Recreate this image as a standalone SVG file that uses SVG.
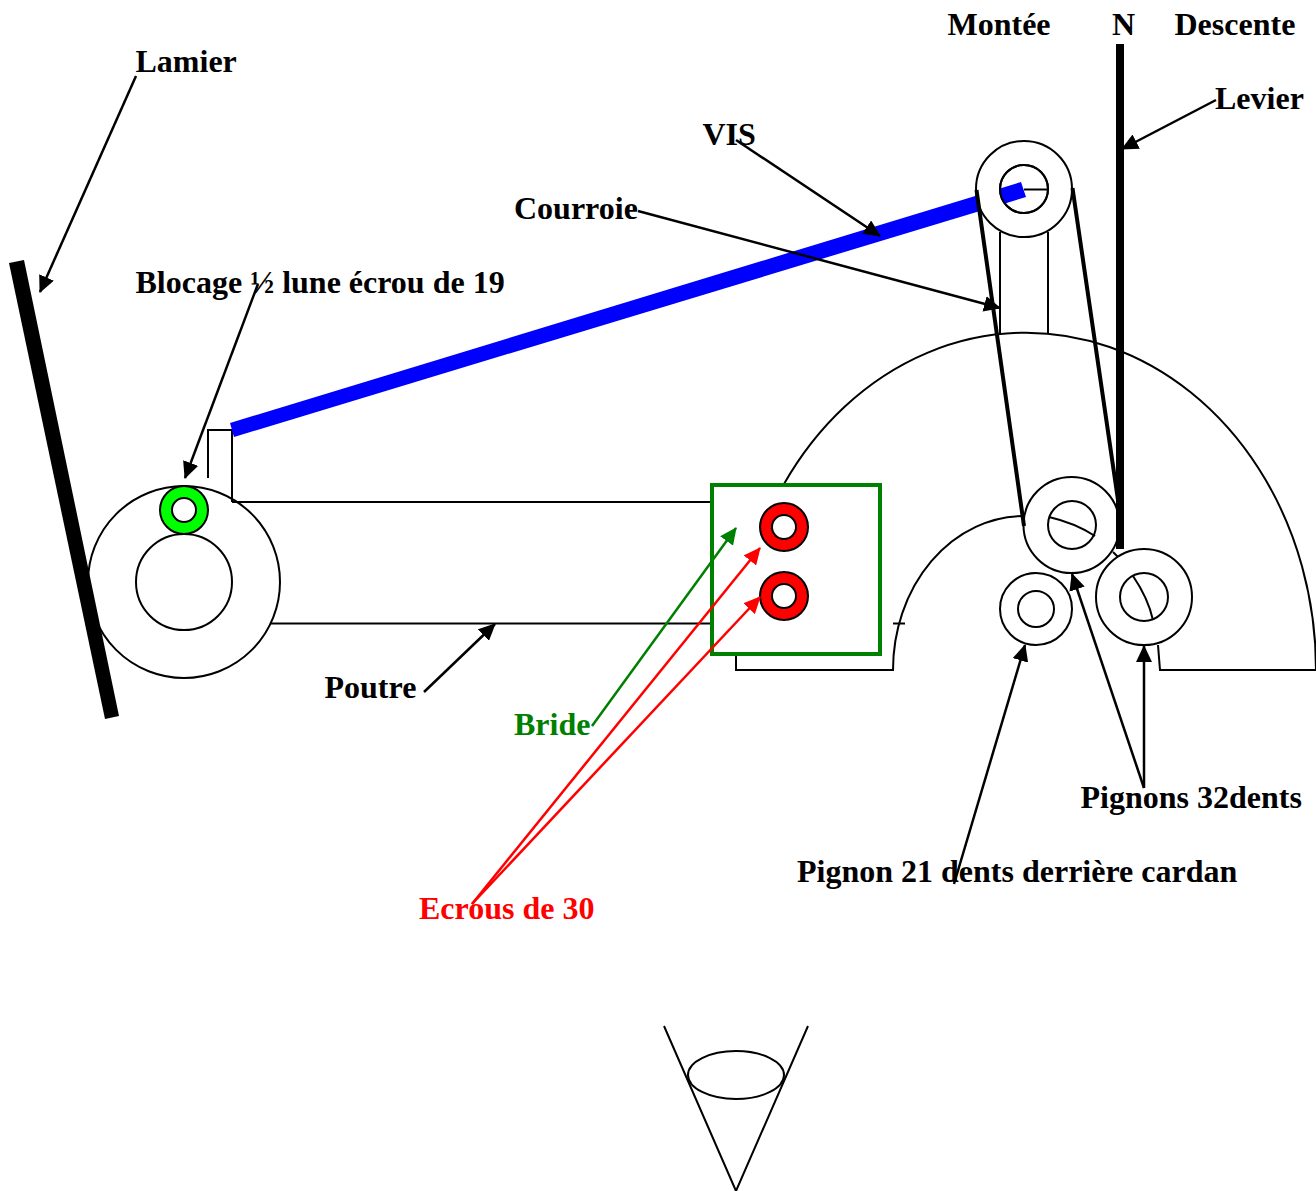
<svg xmlns="http://www.w3.org/2000/svg" width="1316" height="1191" viewBox="0 0 1316 1191">
<style>
.s{fill:none;stroke:#000;stroke-width:2}
.w{fill:#fff;stroke:#000;stroke-width:2}
.b{fill:none;stroke:#000;stroke-width:4}
.a{fill:none;stroke:#000;stroke-width:2.5;marker-end:url(#ak)}
.ar{fill:none;stroke:#f00;stroke-width:2.5;marker-end:url(#ar)}
.ag{fill:none;stroke:#008000;stroke-width:2.5;marker-end:url(#ag)}
text{font-family:"Liberation Serif","Times New Roman",serif;font-weight:bold;font-size:32px;fill:#000}
</style>
<defs>
<marker id="ak" markerUnits="userSpaceOnUse" markerWidth="18" markerHeight="16" refX="16" refY="8" orient="auto"><path d="M0 0L17 8L0 16z" fill="#000"/></marker>
<marker id="ar" markerUnits="userSpaceOnUse" markerWidth="18" markerHeight="16" refX="16" refY="8" orient="auto"><path d="M0 0L17 8L0 16z" fill="#f00"/></marker>
<marker id="ag" markerUnits="userSpaceOnUse" markerWidth="18" markerHeight="16" refX="16" refY="8" orient="auto"><path d="M0 0L17 8L0 16z" fill="#008000"/></marker>
<clipPath id="inner"><circle cx="1024" cy="189" r="24"/></clipPath>
</defs>
<g id="secteur">
<path class="s" d="M784 484A290 337 0 0 1 1316 670H1160L1158 645"/>
<path class="s" d="M736 655V670H893A131 154 0 0 1 1024 516"/>
<path class="s" d="M893 623.5H905"/>
</g>
<g id="poutre">
<path class="s" d="M232 502H712M270 623.5H712"/>
<path class="s" d="M208 478V430H232V502"/>
<circle class="s" cx="184" cy="582" r="96"/>
<circle class="s" cx="184" cy="582" r="48"/>
</g>
<g id="lamier"><path d="M9 263L24 260L119 716L105 719z" fill="#000"/></g>
<g id="bloc"><circle cx="184" cy="510" r="24" fill="#0f0" stroke="#000" stroke-width="2"/><circle cx="184" cy="510" r="12" fill="#fff" stroke="#000" stroke-width="2"/></g>
<g id="bride"><rect x="712" y="485" width="168" height="169" fill="#fff" stroke="#008000" stroke-width="4"/></g>
<g id="ecrou1"><circle cx="784" cy="527" r="24" fill="#f00" stroke="#000" stroke-width="2"/><circle cx="784" cy="527" r="12" fill="#fff" stroke="#000" stroke-width="2"/></g>
<g id="ecrou2"><circle cx="784" cy="596" r="24" fill="#f00" stroke="#000" stroke-width="2"/><circle cx="784" cy="596" r="12" fill="#fff" stroke="#000" stroke-width="2"/></g>
<g id="bras"><path class="s" d="M1000 232V334M1048 232V334"/></g>
<g id="vis"><path d="M234 437L230 423L1021 182L1026 197z" fill="#00f"/></g>
<g id="poulie-haut">
<circle class="w" cx="1024" cy="189" r="48"/>
<circle class="w" cx="1024" cy="189" r="24"/>
<path d="M990 191.500L1021 182L1026 197L990 208z" fill="#00f" clip-path="url(#inner)"/>
<circle class="s" cx="1024" cy="189" r="24"/>
<path class="s" d="M1024 189.500H1048"/>
</g>
<g id="pignon1">
<circle class="w" cx="1071.500" cy="525" r="48"/>
<circle class="s" cx="1072" cy="525" r="24"/>
<path class="s" d="M1049 517Q1075 523 1095 536"/>
</g>
<g id="courroie"><path class="b" d="M976.500 190L1024 526M1072.500 188L1118 500"/></g>
<g id="levier"><rect x="1116" y="44" width="8" height="505" fill="#000"/></g>
<path class="s" d="M1113 552L1118 557"/>
<g id="pignon2">
<circle class="w" cx="1144" cy="597" r="48"/>
<circle class="s" cx="1144" cy="597" r="24"/>
<path class="s" d="M1133 576Q1148 598 1153 620"/>
</g>
<g id="pignon3">
<circle class="w" cx="1036" cy="609" r="36"/>
<circle class="s" cx="1036" cy="609" r="18"/>
</g>
<g id="cone">
<path class="s" d="M664 1026L736 1191L808 1026"/>
<ellipse class="s" cx="736" cy="1075" rx="48" ry="24"/>
</g>
<g id="connecteurs">
<path class="a" d="M136 76L40 292"/>
<path class="a" d="M258 284L185 478"/>
<path class="a" d="M736 140L880 236"/>
<path class="a" d="M638 211L1000 308"/>
<path class="a" d="M1216 100L1122 149"/>
<path class="a" d="M424 692L495 624"/>
<path class="ag" d="M592 726L736 528"/>
<path class="ar" d="M472 904L760 548"/>
<path class="ar" d="M472 904L760 597"/>
<path class="a" d="M954 884L1025 645"/>
<path class="a" d="M1144 788L1072 574"/>
<path class="a" d="M1144 788V646"/>
</g>
<g id="textes">
<text x="135.500" y="72">Lamier</text>
<text x="947.500" y="35">Montée</text>
<text x="1112" y="35">N</text>
<text x="1174.500" y="35">Descente</text>
<text x="1215" y="109">Levier</text>
<text x="702.500" y="145">VIS</text>
<text x="514" y="219">Courroie</text>
<text x="135.500" y="293">Blocage ½ lune écrou de 19</text>
<text x="324.500" y="698">Poutre</text>
<text x="514" y="735" style="fill:#008000">Bride</text>
<text x="1080.500" y="808">Pignons 32dents</text>
<text x="797" y="882">Pignon 21 dents derrière cardan</text>
<text x="419" y="919" style="fill:#f00">Ecrous de 30</text>
</g>
</svg>
